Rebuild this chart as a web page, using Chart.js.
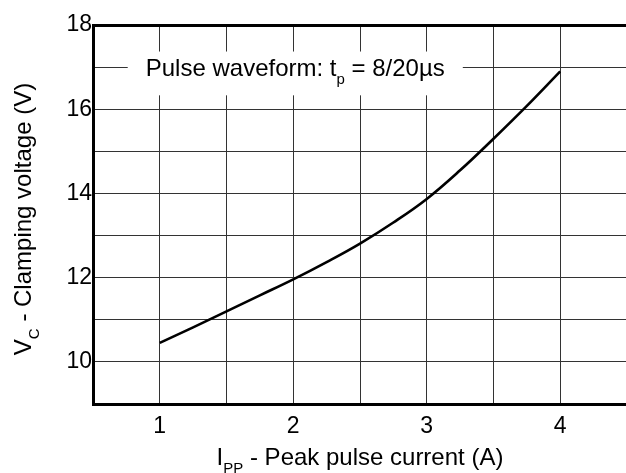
<!DOCTYPE html>
<html>
<head>
<meta charset="utf-8">
<script src="https://cdn.jsdelivr.net/npm/chart.js@4/dist/chart.umd.min.js"></script>
<style>
  html, body { margin: 0; padding: 0; background: #fff; }
  #wrap { width: 626px; height: 473px; overflow: hidden; position: relative; }
  canvas { display: block; }
</style>
</head>
<body>
<div id="wrap"><canvas id="c" width="636" height="473"></canvas></div>
<script>
// Data
const peakCurrent = [1, 1.25, 1.5, 1.75, 2, 2.25, 2.5, 2.75, 3, 3.25, 3.5, 3.75, 4];
const clampVoltage = [10.45, 10.82, 11.2, 11.58, 11.96, 12.37, 12.81, 13.31, 13.87, 14.55, 15.3, 16.08, 16.9];
const xTickLabels = [1, 2, 3, 4];
const yTickLabels = [10, 12, 14, 16, 18];
const xTitle = [{t: 'I'}, {t: 'PP', sub: true}, {t: ' - Peak pulse current (A)'}];
const yTitle = [{t: 'V'}, {t: 'C', sub: true}, {t: ' - Clamping voltage (V)'}];
const note = [{t: 'Pulse waveform: t'}, {t: 'p', sub: true}, {t: ' = 8/20\u00b5s'}];

const FONT = 'Liberation Sans, Arial, sans-serif';
const MAIN = 24, SUB = 15, SUBDROP = 8, TICK = 23;

function richWidth(ctx, parts) {
  let w = 0;
  for (const p of parts) {
    ctx.font = (p.sub ? SUB : MAIN) + 'px ' + FONT;
    w += ctx.measureText(p.t).width;
  }
  return w;
}
function drawRich(ctx, parts, x, y) {
  // x = left, y = baseline
  ctx.textBaseline = 'alphabetic';
  ctx.textAlign = 'left';
  for (const p of parts) {
    ctx.font = (p.sub ? SUB : MAIN) + 'px ' + FONT;
    ctx.fillText(p.t, x, y + (p.sub ? SUBDROP : 0));
    x += ctx.measureText(p.t).width;
  }
}

const textPlugin = {
  id: 'textPlugin',
  beforeDatasetsDraw(chart) {
    const ctx = chart.ctx, xs = chart.scales.x, ys = chart.scales.y;
    // annotation box
    const bx0 = xs.getPixelForValue(0.76), bx1 = xs.getPixelForValue(3.27);
    const by0 = ys.getPixelForValue(17.37), by1 = ys.getPixelForValue(16.33);
    ctx.save();
    ctx.fillStyle = '#fff';
    ctx.fillRect(bx0, by0, bx1 - bx0, by1 - by0);
    ctx.fillStyle = '#000';
    const w = richWidth(ctx, note);
    const cx = (bx0 + bx1) / 2;
    drawRich(ctx, note, cx - w / 2, ys.getPixelForValue(17) + 9);
    ctx.restore();
  },
  afterDraw(chart) {
    const ctx = chart.ctx, area = chart.chartArea;
    ctx.save();
    ctx.fillStyle = '#000';
    // x title
    const wx = richWidth(ctx, xTitle);
    drawRich(ctx, xTitle, (area.left + area.right) / 2 - wx / 2, 465);
    // y title
    const wy = richWidth(ctx, yTitle);
    ctx.translate(31, 219);
    ctx.rotate(-Math.PI / 2);
    drawRich(ctx, yTitle, -wy / 2, 0);
    ctx.restore();
  }
};

new Chart(document.getElementById('c'), {
  type: 'line',
  data: {
    datasets: [{
      data: peakCurrent.map((x, i) => ({x, y: clampVoltage[i]})),
      borderColor: '#000',
      borderWidth: 2.6,
      pointRadius: 0,
      tension: 0.4,
      fill: false
    }]
  },
  options: {
    responsive: false,
    animation: false,
    events: [],
    layout: { padding: { top: 25, right: 0, left: 0, bottom: 0 } },
    plugins: { legend: { display: false }, tooltip: { enabled: false } },
    scales: {
      x: {
        type: 'linear', min: 0.5, max: 4.5,
        afterFit(s) { s.height = 69; },
        border: { display: true, color: '#000', width: 3 },
        grid: { color: '#333', lineWidth: 1, drawTicks: false },
        ticks: {
          stepSize: 0.5, autoSkip: false, maxRotation: 0, padding: 9,
          color: '#000', font: { family: FONT, size: TICK },
          callback: v => xTickLabels.includes(v) ? String(v) : ''
        }
      },
      y: {
        min: 9, max: 18,
        afterFit(s) { s.width = 93; },
        border: { display: true, color: '#000', width: 3 },
        grid: {
          color: c => c.tick && c.tick.value === 18 ? '#000' : '#333',
          lineWidth: c => c.tick && c.tick.value === 18 ? 3 : 1,
          drawTicks: false
        },
        ticks: {
          stepSize: 1, autoSkip: false, padding: 1,
          color: '#000', font: { family: FONT, size: TICK },
          callback: v => yTickLabels.includes(v) ? String(v) : ''
        }
      }
    }
  },
  plugins: [textPlugin]
});
</script>
</body>
</html>
